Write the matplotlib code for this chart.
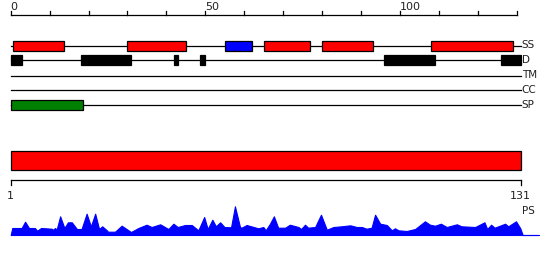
import numpy as np
import matplotlib
matplotlib.use("Agg")
from matplotlib import pyplot as plt
from matplotlib.patches import Rectangle

# sequence length and axis ticks
seq_len = 131
top_ticks = list(range(0, 131, 10))
top_labels = {0: "0", 50: "50", 100: "100"}

# track names
tracks = ["SS", "D", "TM", "CC", "SP"]

# secondary structure segments (start, end, colour)
ss_start = [0.7, 30, 55, 65, 80, 108]
ss_end = [13.8, 45, 62, 77, 93, 129]
ss_color = ["red", "red", "blue", "red", "red", "red"]

# disorder segments
d_start = [0, 18, 42, 48.7, 96, 126]
d_end = [3, 31, 43, 50, 109, 131]

# signal peptide segment
sp_start = [0]
sp_end = [18.7]

# profile under the sequence bar (position, score)
ps_pos = [0, 0.4, 2.8, 3.7, 4.7, 6.2, 6.8, 7.8, 10.5, 10.9, 11.4, 11.8, 12.7, 13.8,
          14.7, 15.7, 17.0, 18.2, 19.5, 20.6, 21.7, 22.7, 23.5, 24.7, 25.0, 26.8,
          28.5, 30.9, 32.8, 34.9, 36.2, 38.4, 40.5, 41.8, 42.9, 44.8, 46.5, 48.2,
          49.7, 50.6, 51.8, 52.7, 53.8, 54.9, 56.6, 57.6, 58.9, 59.3, 60.6, 63.6,
          64.9, 65.5, 66.6, 67.6, 68.7, 70.5, 71.7, 73.9, 74.6, 75.6, 76.4, 78.2,
          79.7, 81.2, 82.9, 85.0, 87.2, 88.9, 90.2, 91.4, 92.7, 93.6, 94.9, 96.6,
          97.9, 98.7, 99.6, 101.7, 103.9, 106.4, 107.7, 109.0, 110.5, 112.0, 114.6,
          115.8, 119.3, 121.7, 122.4, 123.4, 124.3, 127.0, 127.8, 129.8, 130.9,
          131.5, 135.6]
ps_val = [0, 7, 7, 13.3, 7, 7, 4.3, 7, 6.3, 5.3, 7, 5.3, 18.7, 7,
          12.7, 12.7, 6, 6, 21.3, 8.7, 21.3, 6, 8.7, 4.7, 3.3, 3.3,
          9.3, 3, 7, 10.3, 8, 10.7, 6, 11.3, 8, 10, 10, 4.7,
          18, 6, 15.3, 8.7, 12.7, 8, 7.7, 28.7, 8, 7.3, 10, 6.7,
          8, 4.7, 11.3, 18.7, 7.3, 7.3, 10.3, 8, 6, 10.3, 7.3, 8,
          20.3, 5.3, 8, 8.7, 9.7, 8, 8, 6.3, 7.3, 20.3, 11.3, 10,
          4.7, 6.7, 4.7, 4, 6, 13.7, 10.3, 9.3, 11.3, 8, 10.7,
          8.7, 8, 12.7, 6, 10.3, 7.3, 11.3, 8.7, 13.7, 6.7,
          0, 0]

px = 3.893  # pixels per residue
fig = plt.figure(figsize=(5.5, 2.6), dpi=100)
ax = fig.add_axes([0, 0, 1, 1])
ax.set_xlim(-10.7 / px, (550 - 10.7) / px)
ax.set_ylim(260, 0)
ax.axis("off")

txt = "#222222"
lw = 0.9

# top ruler
ax.plot([0, 130], [14.7, 14.7], color="black", lw=lw)
for t in top_ticks:
    ax.plot([t, t], [14.7, 10.5], color="black", lw=lw)
    if t in top_labels:
        ax.text(t, 6.5, top_labels[t], ha="left", va="center", fontsize=8, color=txt)

# track lines and labels
track_y = [45.5, 60.3, 75.5, 90.3, 105.3]
for name, y in zip(tracks, track_y):
    ax.plot([0, 131], [y, y], color="black", lw=lw, zorder=1)
    ax.text(131.3, y, name, ha="left", va="center", fontsize=7.5, color=txt)

bh = 10
for s, e, c in zip(ss_start, ss_end, ss_color):
    ax.add_patch(Rectangle((s, track_y[0] - bh / 2), e - s, bh, facecolor=c,
                           edgecolor="black", lw=lw, zorder=2))
for s, e in zip(d_start, d_end):
    ax.add_patch(Rectangle((s, track_y[1] - bh / 2), e - s, bh, facecolor="black",
                           edgecolor="black", lw=lw, zorder=2))
for s, e in zip(sp_start, sp_end):
    ax.add_patch(Rectangle((s, track_y[4] - bh / 2), e - s, bh, facecolor="green",
                           edgecolor="black", lw=lw, zorder=2))

# sequence bar
ax.add_patch(Rectangle((0, 150.7), seq_len, 19.6, facecolor="red",
                       edgecolor="black", lw=lw))

# bottom ruler
ax.plot([0, seq_len], [180.3, 180.3], color="black", lw=lw)
for t in [0, seq_len]:
    ax.plot([t, t], [180.3, 185], color="black", lw=lw)
ax.text(0, 196, "1", ha="center", va="center", fontsize=8, color=txt)
ax.text(seq_len, 196, str(seq_len), ha="center", va="center", fontsize=8, color=txt)
ax.text(131.3, 211, "PS", ha="left", va="center", fontsize=7.5, color=txt)

# profile
base = 235
ps_y = base - np.array(ps_val)
ax.fill_between(ps_pos, base, ps_y, facecolor="blue", edgecolor="blue", lw=0.8)

fig.savefig("out.png", dpi=100)
